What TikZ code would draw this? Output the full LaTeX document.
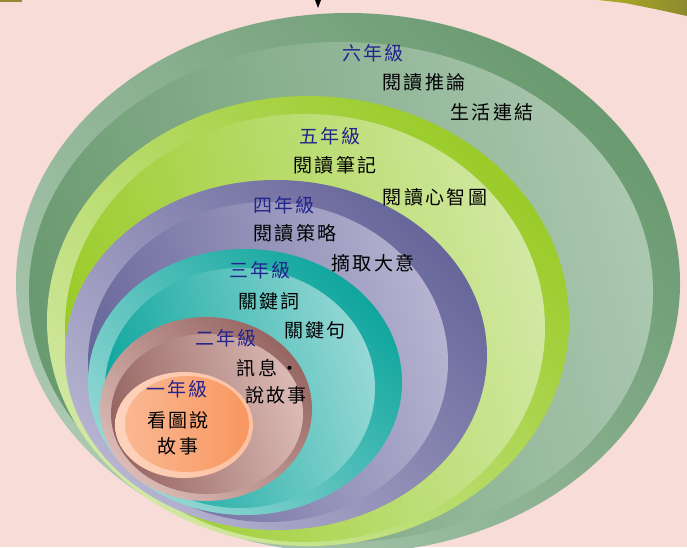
\documentclass[tikz,border=0pt]{standalone}
\usepackage{fontspec}
\usepackage{tikz}
\newfontfamily\cjk[LetterSpace=12]{Noto Sans CJK TC}

\definecolor{bgpink}{HTML}{F8DCD8}
\definecolor{navy}{HTML}{24248E}
\definecolor{sixlight}{HTML}{AAC7B0}
\definecolor{sixdark}{HTML}{6A9A70}
\definecolor{fivelight}{HTML}{D1E8A2}
\definecolor{fivedark}{HTML}{9ACB28}
\definecolor{fourlight}{HTML}{B5B3D0}
\definecolor{fourdark}{HTML}{67669A}
\definecolor{threelight}{HTML}{95D8D5}
\definecolor{threedark}{HTML}{0FA69E}
\definecolor{twolight}{HTML}{DBBAB5}
\definecolor{twodark}{HTML}{976663}
\definecolor{onelight}{HTML}{FDD3BC}
\definecolor{onedark}{HTML}{F8965F}
\definecolor{olive}{HTML}{8C8A30}

\tikzset{
  outerring/.style 2 args={left color=#1, right color=#2, shading angle=135},
  innerring/.style 2 args={left color=#2, middle color=#2!72!#1, right color=#1, shading angle=105},
  grade/.style={font=\cjk\fontsize{19}{21}\selectfont, text=navy, inner sep=0pt},
  item/.style={font=\cjk\fontsize{19}{21}\selectfont, text=black, inner sep=0pt}
}

\begin{document}
\begin{tikzpicture}[x=1pt, y=-1pt]
	\fill[bgpink] (0,0) rectangle (687,547);
	\useasboundingbox (0,0) rectangle (687,547);
	% bits of the slide above
	\fill[olive!80!brown] (0,0) rectangle (22,2);
	\shade[left color=olive!70!yellow, right color=olive] (598,0) -- (687,0) -- (687,16) -- (655,9) -- (625,3) -- cycle;
	\fill[black] (315,0) -- (321,0) -- (318,8) -- cycle;

	% sixth grade
	\shade[outerring={sixlight}{sixdark}] (348,283) ellipse [x radius=332, y radius=270];
	\shade[innerring={sixlight}{sixdark}] (341,292) ellipse [x radius=312, y radius=250];
	% fifth grade
	\shade[outerring={fivelight}{fivedark}] (308,321) ellipse [x radius=261, y radius=225];
	\shade[innerring={fivelight}{fivedark}] (305,328) ellipse [x radius=240, y radius=214];
	% fourth grade
	\shade[outerring={fourlight}{fourdark}] (276,355) ellipse [x radius=211, y radius=175];
	\shade[innerring={fourlight}{fourdark}] (268,362) ellipse [x radius=180, y radius=160];
	% third grade
	\shade[outerring={threelight}{threedark}] (245,382) ellipse [x radius=157, y radius=133];
	\shade[innerring={threelight}{threedark}] (240,388) ellipse [x radius=135, y radius=120];
	% second grade
	\shade[outerring={twolight}{twodark}] (206,409) ellipse [x radius=106, y radius=92];
	\shade[innerring={twolight}{twodark}] (207,414) ellipse [x radius=96, y radius=80];
	% first grade
	\shade[left color=onelight, right color=onelight!70!onedark] (184,425) ellipse [x radius=69, y radius=53];
	\shade[left color=onelight!55!onedark, right color=onedark] (187,424) ellipse [x radius=62, y radius=48];

	\node[grade] (g6) at (373,53) {六年級};
	\node[item] (g6a) at (424,82) {閱讀推論};
	\node[item] (g6b) at (492,112) {生活連結};
	\node[grade] (g5) at (330,136) {五年級};
	\node[item] (g5a) at (335,165) {閱讀筆記};
	\node[item] (g5b) at (435,197) {閱讀心智圖};
	\node[grade] (g4) at (284,205) {四年級};
	\node[item] (g4a) at (295,233) {閱讀策略};
	\node[item] (g4b) at (373,263) {摘取大意};
	\node[grade] (g3) at (260,270) {三年級};
	\node[item] (g3a) at (269,301) {關鍵詞};
	\node[item] (g3b) at (315,330) {關鍵句};
	\node[grade] (g2) at (226,338) {二年級};
	\node[item] (g2a) at (268,368) {訊息\,•};
	\node[item] (g2b) at (276,395) {說故事};
	\node[grade] (g1) at (177,389) {一年級};
	\node[item] (g1a) at (178,420) {看圖說};
	\node[item] (g1b) at (178,446) {故事};
\end{tikzpicture}
\end{document}
